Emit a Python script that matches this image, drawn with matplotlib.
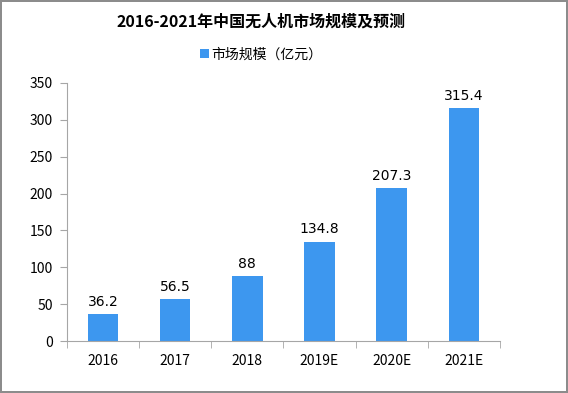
import matplotlib.pyplot as plt

plt.rcParams['font.family'] = ['Noto Sans CJK SC', 'DejaVu Sans']

years = ['2016', '2017', '2018', '2019E', '2020E', '2021E']
values = [36.2, 56.5, 88, 134.8, 207.3, 315.4]
value_labels = ['36.2', '56.5', '88', '134.8', '207.3', '315.4']

bar_color = '#3d97ef'
axis_color = '#a6a6a6'

fig = plt.figure(figsize=(5.68, 3.93), dpi=100)
fig.patch.set_edgecolor('#8c8c8c')
fig.patch.set_linewidth(1.5)
ax = fig.add_axes([0.118, 0.132, 0.762, 0.657])

x = range(len(years))
bars = ax.bar(x, values, width=0.42, color=bar_color, label='市场规模（亿元）')
for xi, v, lab in zip(x, values, value_labels):
    ax.annotate(lab, (xi, v), xytext=(0, 4), textcoords='offset points',
                ha='center', va='bottom', fontsize=10, family='DejaVu Sans')

ax.set_xlim(-0.5, len(years) - 0.5)
ax.set_ylim(0, 350)
ax.set_yticks(range(0, 351, 50))
ax.set_xticks(list(x))
ax.set_xticklabels(years)
ax.set_xticks([i - 0.5 for i in range(len(years) + 1)], minor=True)
ax.tick_params(axis='x', which='major', length=0, pad=9, labelsize=10)
ax.tick_params(axis='x', which='minor', length=5, color=axis_color, direction='out')
ax.tick_params(axis='y', length=5, color=axis_color, labelsize=10, pad=5)

for s in ['top', 'right']:
    ax.spines[s].set_visible(False)
for s in ['left', 'bottom']:
    ax.spines[s].set_color(axis_color)

fig.text(0.46, 0.945, '2016-2021年中国无人机市场规模及预测', ha='center', va='center',
         fontsize=11.5, fontweight='bold')
leg = fig.legend(loc='center', bbox_to_anchor=(0.46, 0.862), frameon=False,
                 fontsize=10, handlelength=0.6, handleheight=0.6, handletextpad=0.2)

fig.savefig('out.png', dpi=100, edgecolor=fig.get_edgecolor())
